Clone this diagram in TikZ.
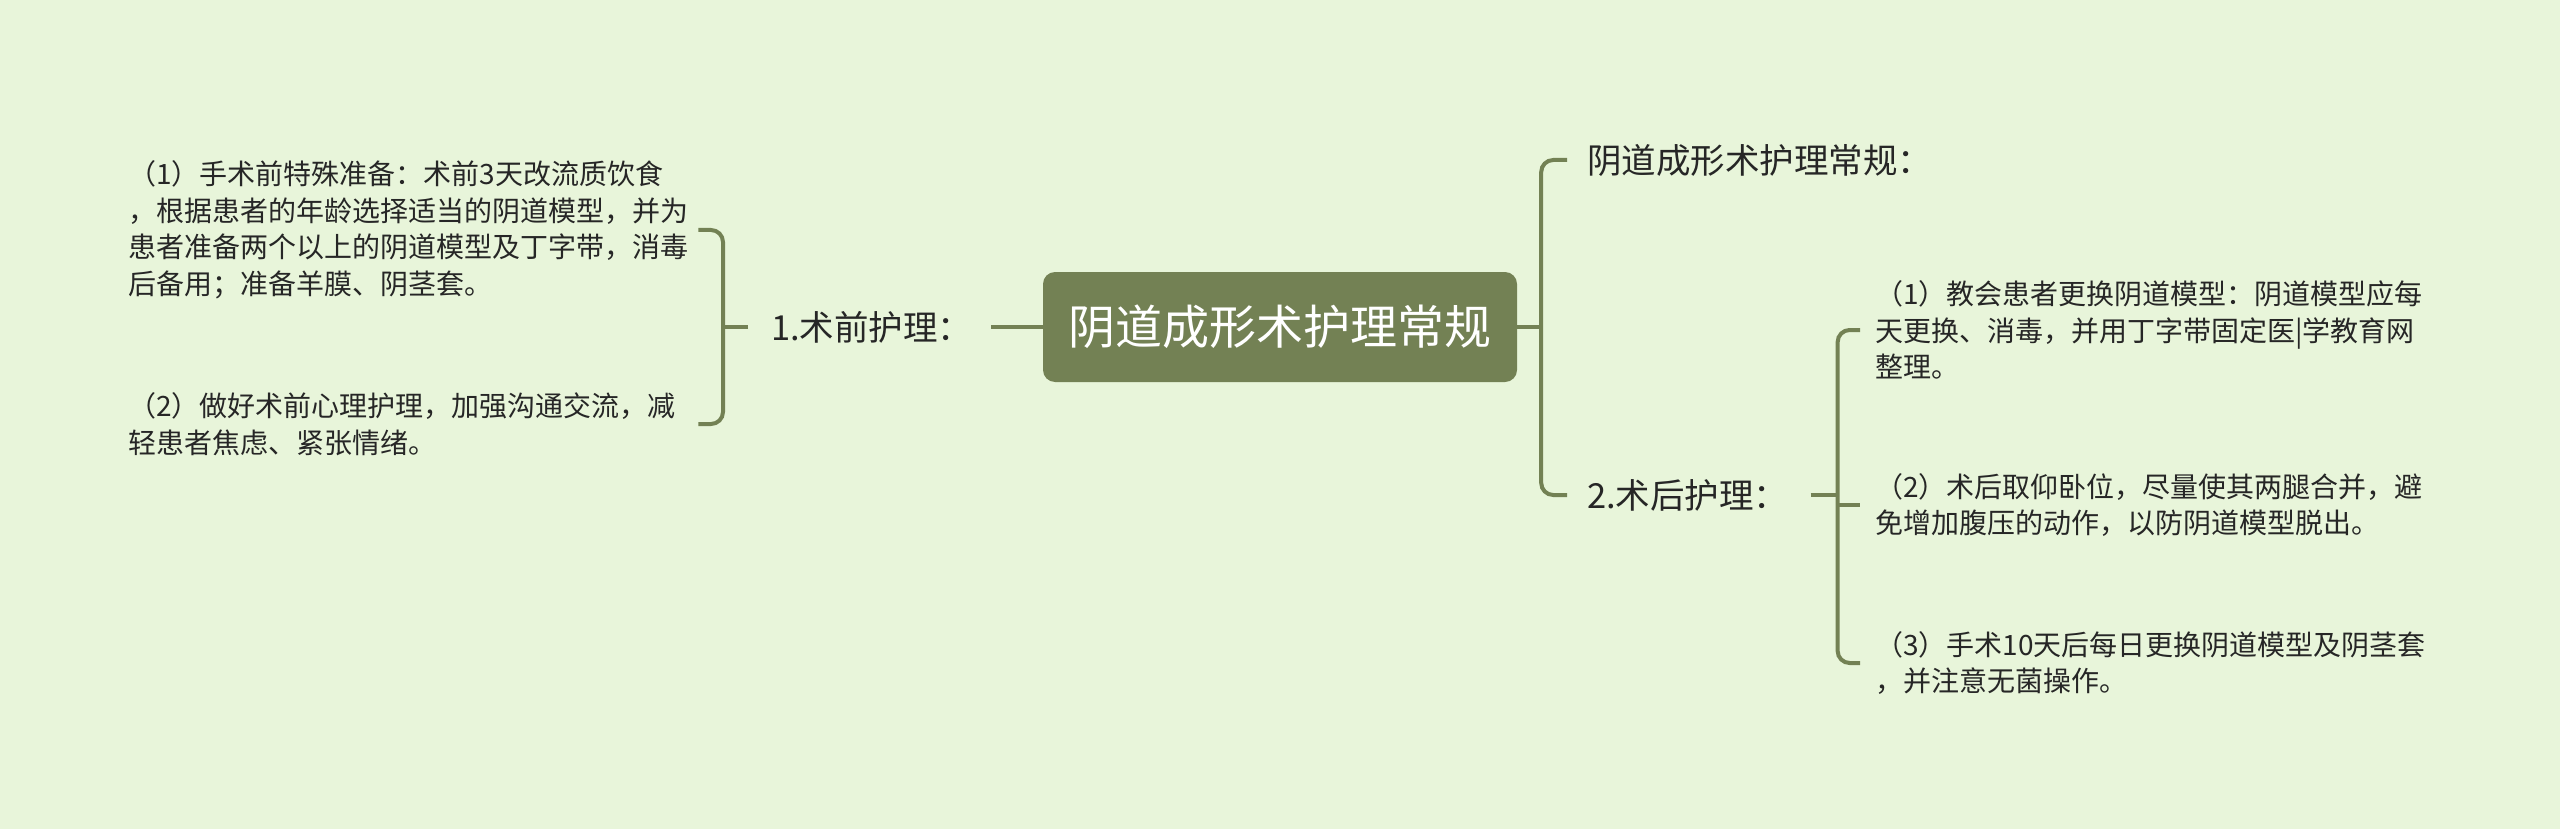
\documentclass[tikz,border=0pt]{standalone}
\usepackage{fontspec}
\setmainfont{Noto Sans CJK SC}
\definecolor{paper}{HTML}{E8F5DA}
\definecolor{branch}{HTML}{738154}
\definecolor{ink}{HTML}{262626}

\begin{document}
\begin{tikzpicture}[x=1pt,y=-1pt,
	link/.style={draw=branch,line width=4pt},
	topic/.style={anchor=west,inner sep=0pt,text=ink,font=\fontsize{34.5}{40}\selectfont},
	leaf/.style={anchor=west,inner sep=0pt,text=ink,text width=570pt,align=left,font=\fontsize{28}{36.5}\selectfont}]
	\fill[paper] (0,0) rectangle (2560,829);

	\node[fill=branch,rounded corners=12pt,minimum width=474pt,minimum height=110pt,text=white,font=\fontsize{47}{56}\selectfont] (main) at (1280,327) {阴道成形术护理常规};

	\node[topic] (pre) at (771,327) {1.术前护理：};
	\node[leaf] (preone) at (128,230) {（1）手术前特殊准备：术前3天改流质饮食\\，根据患者的年龄选择适当的阴道模型，并为\\患者准备两个以上的阴道模型及丁字带，消毒\\后备用；准备羊膜、阴茎套。};
	\node[leaf] (pretwo) at (128,424) {（2）做好术前心理护理，加强沟通交流，减\\轻患者焦虑、紧张情绪。};

	\node[topic] (rule) at (1587,160) {阴道成形术护理常规：};
	\node[topic] (post) at (1587,495) {2.术后护理：};
	\node[leaf] (postone) at (1875,330) {（1）教会患者更换阴道模型：阴道模型应每\\天更换、消毒，并用丁字带固定医|学教育网\\整理。};
	\node[leaf] (posttwo) at (1875,505) {（2）术后取仰卧位，尽量使其两腿合并，避\\免增加腹压的动作，以防阴道模型脱出。};
	\node[leaf] (postthree) at (1875,663) {（3）手术10天后每日更换阴道模型及阴茎套\\，并注意无菌操作。};

	\draw[link] (main.west) -- ([xshift=18pt]pre.east);
	\draw[link] ([xshift=-23pt]pre.west) -- ++(-25,0) coordinate (prejoin);
	\draw[link,rounded corners=12pt] (preone.east) -| (prejoin) |- (pretwo.east);

	\draw[link] (main.east) -- ++(24,0) coordinate (mainjoin);
	\draw[link,rounded corners=12pt] ([xshift=-20pt]rule.west) -| (mainjoin) |- ([xshift=-20pt]post.west);

	\draw[link] ([xshift=22pt]post.east) -- ++(27,0) coordinate (postjoin);
	\draw[link,rounded corners=12pt] ([xshift=-15pt]postone.west) -| (postjoin) |- ([xshift=-15pt]postthree.west);
	\draw[link] (postjoin |- posttwo.west) -- ([xshift=-15pt]posttwo.west);
\end{tikzpicture}
\end{document}
